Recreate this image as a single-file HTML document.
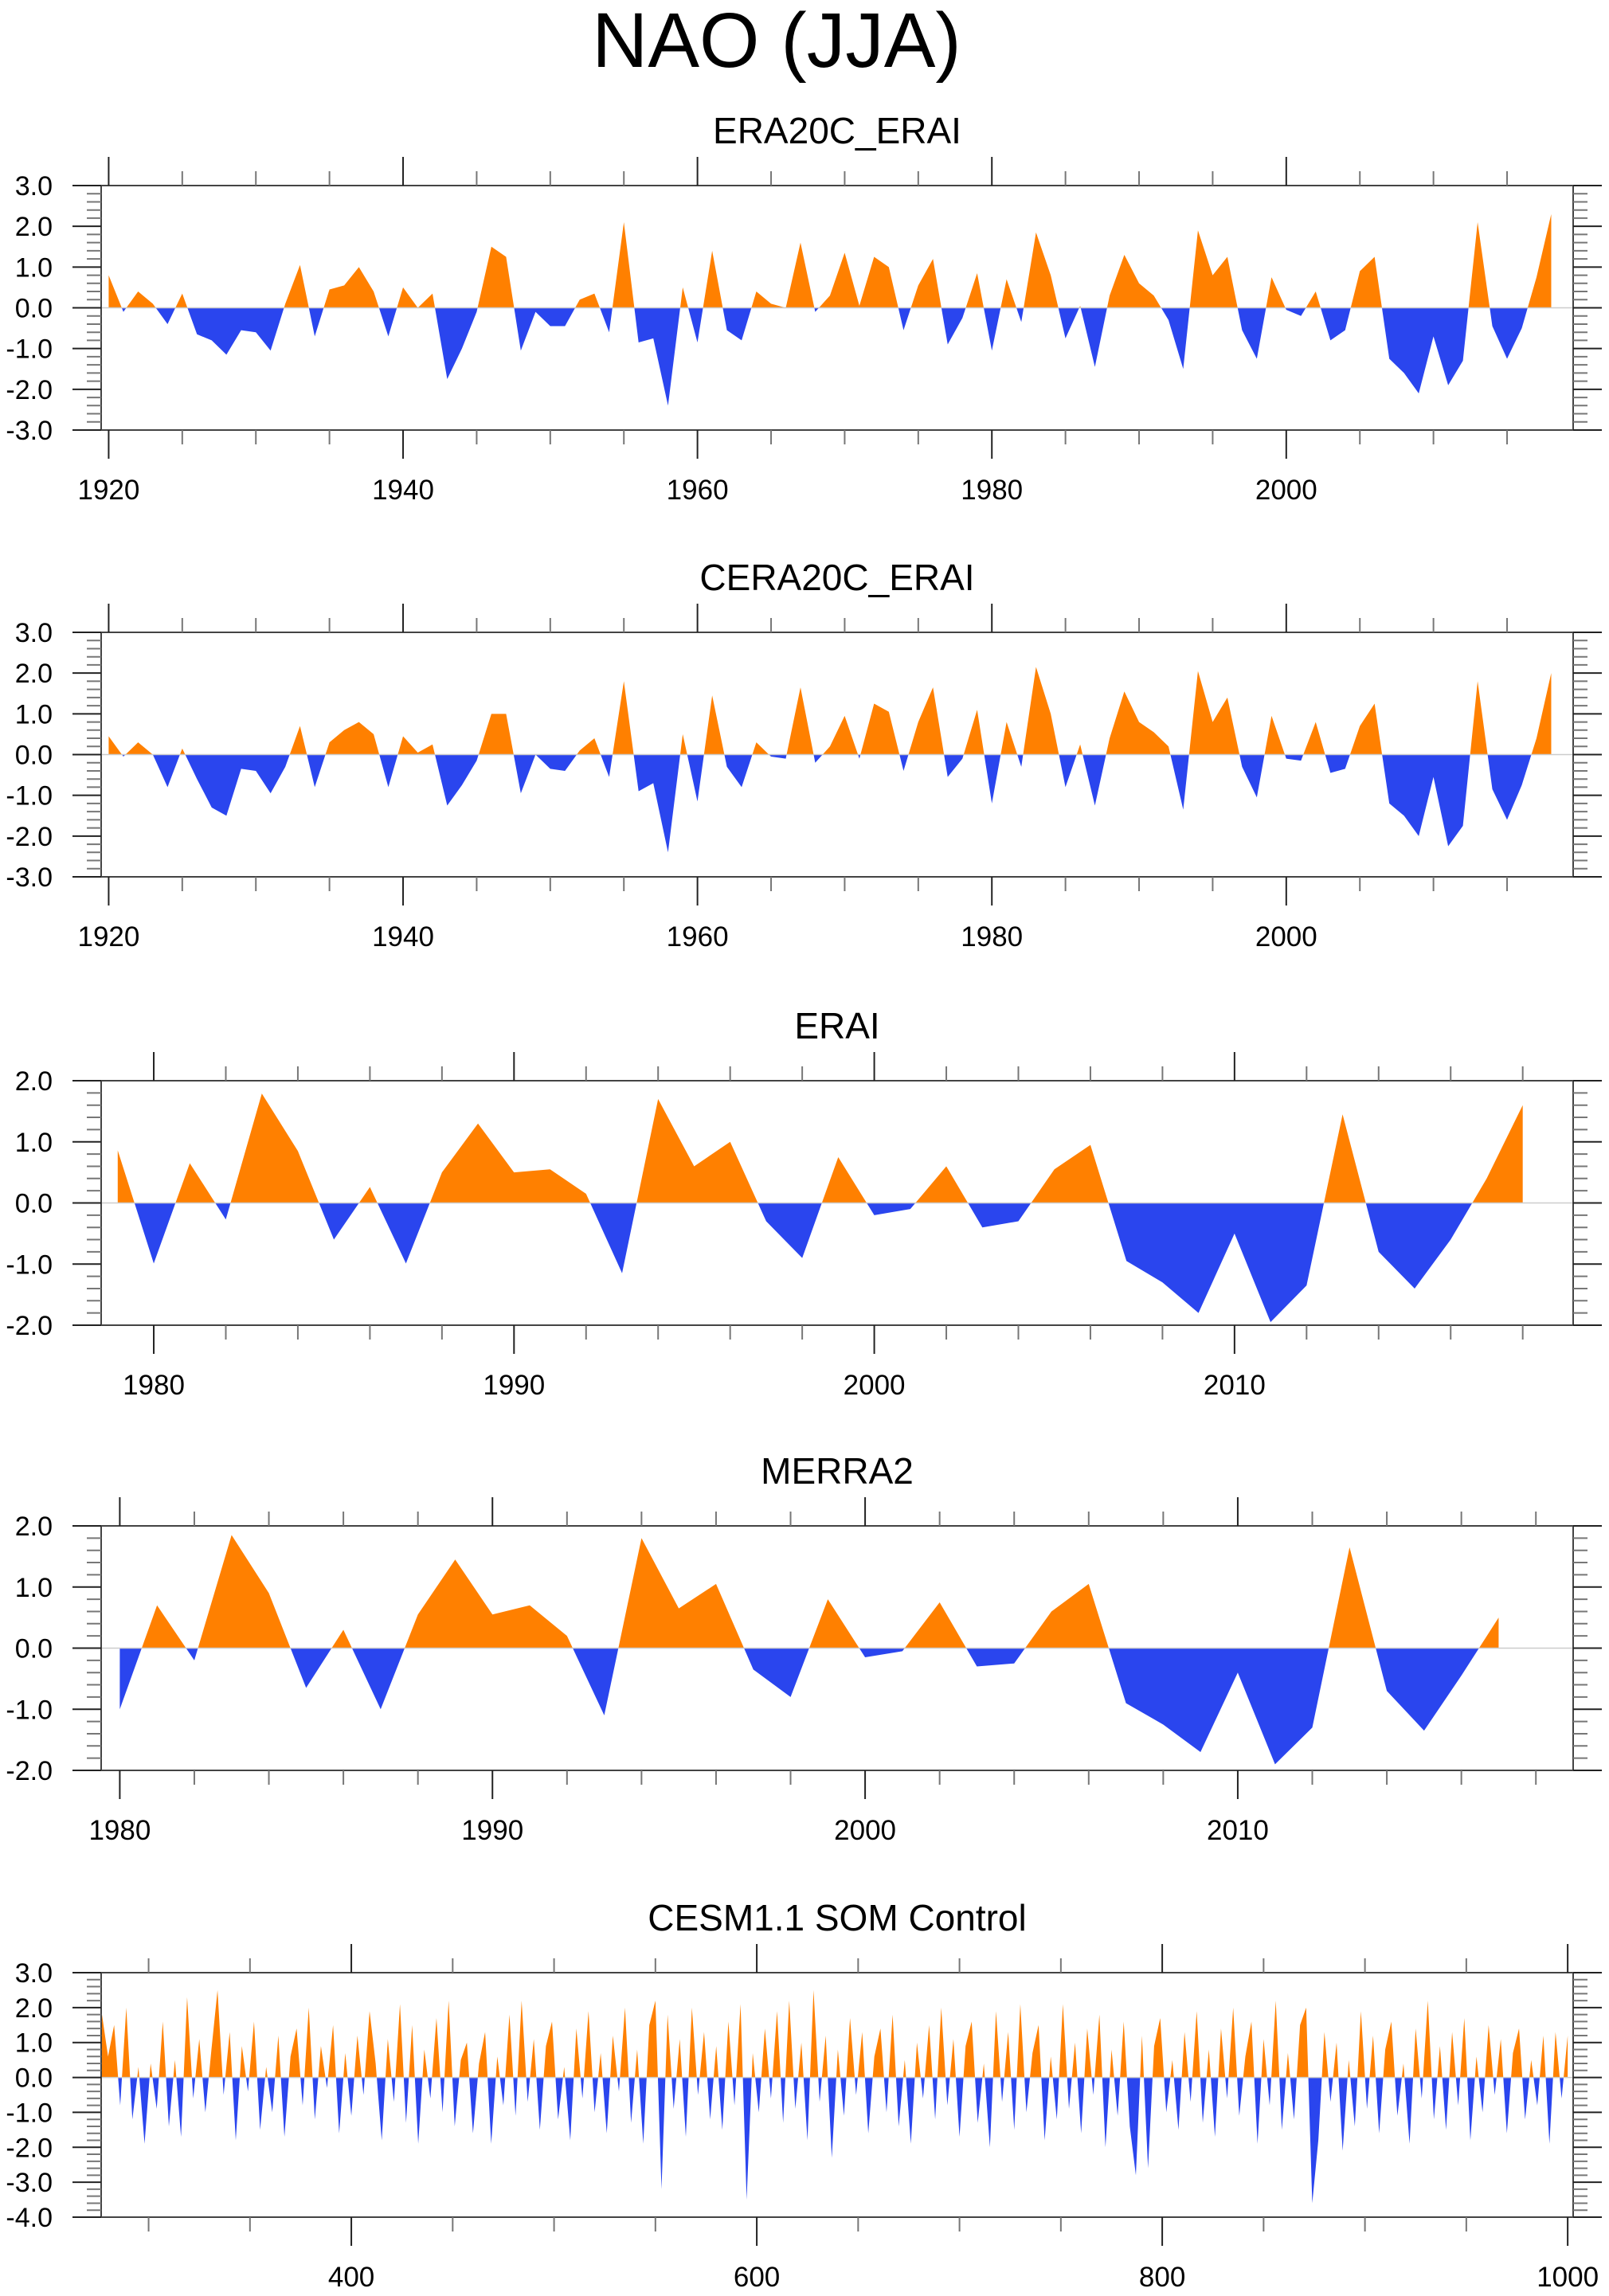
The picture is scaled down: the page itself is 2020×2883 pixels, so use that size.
<!DOCTYPE html>
<html><head><meta charset="utf-8"><title>NAO (JJA)</title>
<style>
html,body{margin:0;padding:0;background:#fff;}
svg{display:block;font-family:"Liberation Sans",Arial,sans-serif;}
</style></head>
<body>
<svg id="chart" width="2020" height="2883" viewBox="0 0 2020 2883" xmlns="http://www.w3.org/2000/svg">
<rect width="2020" height="2883" fill="#fff"/>
<text x="975" y="84" font-size="97" text-anchor="middle" fill="#000">NAO (JJA)</text>
</svg>
<script>
// ---- data ----
const era20cYears = [];
for (let y = 1920; y <= 2018; y++) era20cYears.push(y);
const era20cValues = [0.8,-0.1,0.4,0.1,-0.4,0.35,-0.65,-0.8,-1.15,-0.55,
-0.6,-1.05,0.1,1.05,-0.7,0.45,0.55,1.0,0.4,-0.7,
0.5,0.0,0.35,-1.75,-1.0,-0.1,1.5,1.25,-1.05,-0.1,
-0.45,-0.45,0.2,0.35,-0.6,2.1,-0.85,-0.75,-2.4,0.5,
-0.85,1.4,-0.55,-0.8,0.4,0.1,0.0,1.6,-0.1,0.3,
1.35,0.05,1.25,1.0,-0.55,0.55,1.2,-0.9,-0.25,0.85,
-1.05,0.7,-0.35,1.85,0.8,-0.75,0.05,-1.45,0.3,1.3,
0.6,0.3,-0.3,-1.5,1.9,0.8,1.25,-0.55,-1.25,0.75,
-0.05,-0.2,0.4,-0.8,-0.55,0.9,1.25,-1.25,-1.6,-2.1,
-0.7,-1.9,-1.3,2.1,-0.45,-1.25,-0.5,0.75,2.3];
const cera20cYears = era20cYears.slice();
const cera20cValues = [0.45,-0.05,0.3,0.0,-0.8,0.15,-0.6,-1.3,-1.5,-0.35,
-0.4,-0.95,-0.3,0.7,-0.8,0.3,0.6,0.8,0.5,-0.8,
0.45,0.05,0.25,-1.25,-0.75,-0.15,1.0,1.0,-0.95,0.0,
-0.35,-0.4,0.1,0.4,-0.55,1.8,-0.9,-0.7,-2.4,0.5,
-1.15,1.45,-0.3,-0.8,0.3,-0.05,-0.1,1.65,-0.2,0.2,
0.95,-0.1,1.25,1.05,-0.4,0.8,1.65,-0.55,-0.1,1.1,
-1.2,0.8,-0.3,2.15,1.0,-0.8,0.25,-1.25,0.4,1.55,
0.8,0.55,0.2,-1.35,2.05,0.8,1.4,-0.3,-1.05,0.95,
-0.1,-0.15,0.8,-0.45,-0.35,0.7,1.25,-1.2,-1.5,-2.0,
-0.55,-2.25,-1.75,1.8,-0.85,-1.6,-0.75,0.4,2.0];
const eraiYears = [];
for (let y = 1979; y <= 2018; y++) eraiYears.push(y);
const eraiValues = [0.86,-0.99,0.65,-0.27,1.79,0.85,-0.6,0.26,-0.99,0.5,
1.3,0.5,0.55,0.15,-1.15,1.7,0.6,1.0,-0.3,-0.9,
0.75,-0.2,-0.1,0.6,-0.4,-0.3,0.55,0.95,-0.95,-1.3,
-1.8,-0.5,-1.95,-1.35,1.45,-0.8,-1.4,-0.6,0.4,1.6];
const merraYears = [];
for (let y = 1980; y <= 2017; y++) merraYears.push(y);
const merraValues = [-1.0,0.7,-0.2,1.85,0.9,-0.65,0.3,-1.0,0.55,1.45,
0.55,0.7,0.2,-1.1,1.8,0.65,1.05,-0.35,-0.8,0.8,
-0.15,-0.05,0.75,-0.3,-0.25,0.6,1.05,-0.9,-1.25,-1.7,
-0.4,-1.9,-1.3,1.65,-0.7,-1.35,-0.45,0.5];
const cesmValues = [
1.8,0.6,1.5,-0.8,2.0,-1.2,0.3,-1.9,0.4,-0.9,
1.6,-1.4,0.5,-1.7,2.3,-0.6,1.1,-1.0,0.8,2.5,
-0.5,1.3,-1.8,0.9,-0.4,1.6,-1.5,0.3,-1.0,1.2,
-1.7,0.6,1.4,-0.8,2.0,-1.2,0.9,-0.3,1.5,-1.6,
0.7,-1.1,1.2,-0.5,1.9,0.4,-1.8,1.1,-0.7,2.1,
-1.3,1.5,-1.9,0.8,-0.6,1.7,-1.0,2.2,-1.4,0.5,
1.0,-1.6,0.4,1.3,-1.9,0.6,-0.8,1.8,-1.1,2.2,
-0.7,1.1,-1.5,0.9,1.6,-1.2,0.3,-1.8,1.4,-0.6,
1.9,-1.0,0.7,-1.6,1.2,-0.4,2.0,-1.3,0.8,-1.9,
1.5,2.2,-3.2,1.8,-0.9,1.1,-1.7,2.0,-0.5,1.3,
-1.2,0.9,-1.5,1.6,-0.8,2.1,-3.5,0.7,-1.0,1.4,
-0.6,1.9,-1.3,2.2,-0.9,1.0,-1.8,2.5,-0.7,1.2,
-2.3,0.8,-1.1,1.7,-0.5,1.3,-1.6,0.6,1.4,-1.0,
1.8,-1.4,0.5,-1.9,1.0,-0.6,1.5,-1.2,2.0,-0.8,
1.1,-1.7,0.9,1.6,-1.3,0.4,-2.0,1.9,-0.7,1.3,
-1.5,2.1,-1.0,0.7,1.5,-1.8,0.6,-1.2,2.1,-0.9,
1.0,-1.6,1.4,-0.5,1.8,-2.0,0.8,-1.1,1.6,-1.4,
-2.8,1.2,-2.6,0.9,1.7,-1.0,0.5,-1.5,1.3,-0.7,
1.9,-1.3,0.8,-1.7,1.4,-0.6,2.0,-1.1,0.6,1.6,
-1.9,1.1,-0.8,2.2,-1.5,0.7,-1.2,1.5,2.0,-3.6,
-1.8,1.3,-0.7,1.0,-2.1,0.5,-1.4,1.9,-0.9,1.2,
-1.6,0.8,1.6,-1.1,0.4,-1.9,1.4,-0.6,2.2,-1.2,
0.9,-1.5,1.3,-0.8,1.7,-1.8,0.6,-1.0,1.5,-0.5,
1.1,-1.6,0.7,1.4,-1.2,0.5,-0.8,1.2,-1.9,1.3,
-0.6,1.2];
const cesmYears = cesmValues.map((v, i) => 277 + 3 * i);
const xTicksYears20 = [1920, 1940, 1960, 1980, 2000];
const xTicksYears10a = [1980, 1990, 2000, 2010];
const xTicksCesm = [400, 600, 800, 1000];

// ---- drawing ----
const NS = "http://www.w3.org/2000/svg";
const svg = document.getElementById("chart");
const L = 127, R = 1975, H = 307;
function mk(tag, attrs, parent) {
  const e = document.createElementNS(NS, tag);
  for (const k in attrs) e.setAttribute(k, attrs[k]);
  (parent || svg).appendChild(e);
  return e;
}
function panel(cfg, idx) {
  const g = mk("g", {});
  
  
  const top = cfg.top, bot = top + H;
  const sx = v => L + (v - cfg.xmin) / (cfg.xmax - cfg.xmin) * (R - L);
  const sy = v => top + (cfg.ymax - v) / (cfg.ymax - cfg.ymin) * H;
  const y0 = sy(0);
  const t = mk("text", {x: (L + R) / 2, y: top - 53, "font-size": 46, "text-anchor": "middle"}, g);
  t.textContent = cfg.title;
  
  
  const defs = mk("defs", {}, g);
  const cpA = mk("clipPath", {id: "ca" + idx}, defs);
  mk("rect", {x: L, y: top, width: R - L, height: y0 - top}, cpA);
  const cpB = mk("clipPath", {id: "cb" + idx}, defs);
  mk("rect", {x: L, y: y0, width: R - L, height: bot - y0}, cpB);
  let d = "M" + sx(cfg.xs[0]) + "," + y0;
  for (let i = 0; i < cfg.xs.length; i++) d += " L" + sx(cfg.xs[i]).toFixed(2) + "," + sy(cfg.vals[i]).toFixed(2);
  d += " L" + sx(cfg.xs[cfg.xs.length - 1]) + "," + y0 + " Z";
  const pa = mk("path", {d: d, fill: "#FF8000", "clip-path": "url(#ca" + idx + ")"}, g);
  
  
  const pb = mk("path", {d: d, fill: "#2A45EE", "clip-path": "url(#cb" + idx + ")"}, g);
  
  
  const zl = mk("line", {x1: L, x2: R, y1: y0, y2: y0, stroke: "#cccccc", "stroke-width": 1.5}, g);
  
  
  const fr = mk("rect", {x: L, y: top, width: R - L, height: H, fill: "none", stroke: "#444", "stroke-width": 2}, g);
  
  
  for (let k = 0; ; k++) {
    const v = cfg.ymin + k * 0.2;
    if (v > cfg.ymax + 1e-6) break;
    const y = sy(v);
    const major = Math.abs(v - Math.round(v)) < 1e-6;
    const len = major ? 36 : 18;
    mk("line", {x1: L - len, x2: L, y1: y, y2: y, stroke: major ? "#222" : "#777", "stroke-width": 2}, g);
    mk("line", {x1: R, x2: R + len, y1: y, y2: y, stroke: major ? "#222" : "#777", "stroke-width": 2}, g);
    if (major) {
      const lb = mk("text", {x: 66, y: y + 12, "font-size": 34, "text-anchor": "end"}, g);
      lb.textContent = Math.round(v).toFixed(1);
      
      
    }
  }
  for (let v = cfg.minorStart; v <= cfg.xmax; v += cfg.minorStep) {
    if (v < cfg.xmin) continue;
    const x = sx(v);
    const major = cfg.majors.indexOf(v) >= 0;
    const len = major ? 36 : 18;
    mk("line", {x1: x, x2: x, y1: top - len, y2: top, stroke: major ? "#222" : "#777", "stroke-width": 2}, g);
    mk("line", {x1: x, x2: x, y1: bot, y2: bot + len, stroke: major ? "#222" : "#777", "stroke-width": 2}, g);
  }
  cfg.majors.forEach(v => {
    const lb = mk("text", {x: sx(v), y: bot + 87, "font-size": 35, "text-anchor": "middle"}, g);
    lb.textContent = String(v);
    
    
  });
}
const panels = [
  {name: "era20c-erai", title: "ERA20C_ERAI", top: 233, xmin: 1919.49, xmax: 2019.49, ymin: -3, ymax: 3,
   xs: era20cYears, vals: era20cValues, majors: xTicksYears20, minorStart: 1920, minorStep: 5},
  {name: "cera20c-erai", title: "CERA20C_ERAI", top: 794, xmin: 1919.49, xmax: 2019.49, ymin: -3, ymax: 3,
   xs: cera20cYears, vals: cera20cValues, majors: xTicksYears20, minorStart: 1920, minorStep: 5},
  {name: "erai", title: "ERAI", top: 1357, xmin: 1978.54, xmax: 2019.4, ymin: -2, ymax: 2,
   xs: eraiYears, vals: eraiValues, majors: xTicksYears10a, minorStart: 1980, minorStep: 2},
  {name: "merra2", title: "MERRA2", top: 1916, xmin: 1979.5, xmax: 2019.0, ymin: -2, ymax: 2,
   xs: merraYears, vals: merraValues, majors: xTicksYears10a, minorStart: 1980, minorStep: 2},
  {name: "cesm-som-control", title: "CESM1.1 SOM Control", top: 2477, xmin: 276.6, xmax: 1002.7, ymin: -4, ymax: 3,
   xs: cesmYears, vals: cesmValues, majors: xTicksCesm, minorStart: 300, minorStep: 50}
];
panels.forEach((p, i) => panel(p, i));
</script>
</body></html>
